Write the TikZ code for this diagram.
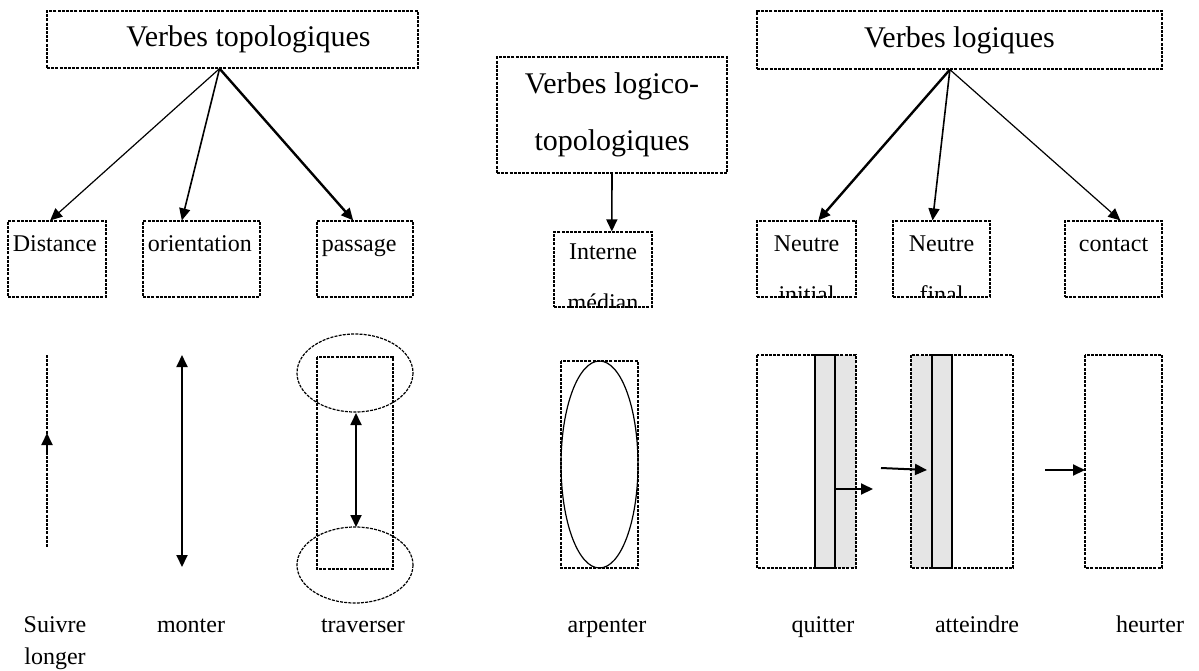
\documentclass[tikz,border=0pt]{standalone}
\usepackage{fontspec}
\setmainfont{Liberation Serif}
\usetikzlibrary{arrows.meta}

\tikzset{
  dots/.style={dash pattern=on 1.5pt off 0.6pt, line width=0.6pt},
  box/.style={draw, dots, rectangle, inner sep=0pt, minimum height=38pt},
  titlebox/.style={draw, dots, rectangle, inner sep=0pt, font=\fontsize{15}{28.5}\selectfont, align=center},
  boxtxt/.style={font=\fontsize{12}{25.5}\selectfont, align=center, inner xsep=2.5pt, inner ysep=7.5pt},
  oneline/.style={text height=8pt, text depth=2.5pt},
  lbl/.style={font=\fontsize{12}{16}\selectfont, anchor=base},
  arr/.style={-{Triangle[length=6pt,width=5.5pt]}},
  dbl/.style={{Triangle[length=6pt,width=5.5pt]}-{Triangle[length=6pt,width=5.5pt]}}
}

\begin{document}
\begin{tikzpicture}[x=0.5pt, y=-0.5pt]
    \useasboundingbox (0,0) rectangle (1199,670);

    % Verbes topologiques
    \node[titlebox, minimum width=185.5pt, minimum height=28.5pt] (topo) at (232.5,39.5) {\hspace{16pt}Verbes topologiques};
    \node[box, minimum width=49pt] (dist) at (57,259) {};
    \node[box, minimum width=58.5pt] (orient) at (201.5,259) {};
    \node[box, minimum width=48pt] (pass) at (365,259) {};
    \node[boxtxt, oneline, anchor=north west] (distTxt) at (dist.north west) {Distance};
    \node[boxtxt, oneline, anchor=north west] (orientTxt) at (orient.north west) {orientation};
    \node[boxtxt, oneline, anchor=north west] (passTxt) at (pass.north west) {passage};
    \draw[arr, line width=0.6pt] (topo.246) -- (dist.100);
    \draw[arr, line width=0.8pt] (topo.246) -- (orient.117);
    \draw[arr, line width=1.2pt] (topo.246) -- (pass.107);

    % Verbes logico-topologiques
    \node[titlebox, minimum width=115pt, minimum height=58pt] (logico) at (612,115) {Verbes logico-\\topologiques};
    \node[box, minimum width=49pt, minimum height=37.5pt] (interne) at (603,269.5) {};
    \begin{scope}
        \clip (interne.south west) rectangle (interne.north east);
        \node[boxtxt, anchor=north, inner ysep=6pt] (interneTxt) at (interne.north) {Interne\\médian};
    \end{scope}
    \draw[arr, line width=0.8pt] (logico.south) -- (interne.77);

    % Verbes logiques
    \node[titlebox, minimum width=202.5pt, minimum height=29pt] (logi) at (959.5,40) {Verbes logiques};
    \node[box, minimum width=49.5pt] (ini) at (806.5,259) {};
    \node[box, minimum width=48.5pt] (fin) at (941.5,259) {};
    \node[box, minimum width=48.5pt] (cont) at (1113.5,259) {};
    \begin{scope}
        \clip (ini.south west) rectangle (ini.north east);
        \node[boxtxt, anchor=north] (iniTxt) at (ini.north) {Neutre\\initial};
    \end{scope}
    \begin{scope}
        \clip (fin.south west) rectangle (fin.north east);
        \node[boxtxt, anchor=north] (finTxt) at (fin.north) {Neutre\\final};
    \end{scope}
    \node[boxtxt, oneline, anchor=north] (contTxt) at (cont.north) {contact};
    \draw[arr, line width=1.2pt] (logi.252) -- (ini.73);
    \draw[arr, line width=0.8pt] (logi.252) -- (fin.103);
    \draw[arr, line width=0.6pt] (logi.252) -- (cont.80);

    % suivre / longer
    \draw[dots] (47,355) -- (47,547);
    \draw[arr, line width=1pt] (47,453) -- (47,433);
    \node[lbl] (suivre) at (55,632) {Suivre};
    \node[lbl] (longer) at ([yshift=-16pt]suivre.base) {longer};

    % monter
    \draw[dbl, line width=0.9pt] (182,355) -- (182,567);
    \node[lbl] (monter) at (191,632) {monter};

    % traverser
    \draw[dots] (317,357) rectangle (393,569);
    \draw[dots] (355,373) ellipse [x radius=58, y radius=39];
    \draw[dots] (355,565) ellipse [x radius=58, y radius=38];
    \draw[dbl, line width=0.9pt] (356,413) -- (356,527);
    \node[lbl] (trav) at (363,632) {traverser};

    % arpenter
    \draw[dots] (561,361) rectangle (638,568);
    \draw[line width=0.6pt] (599.5,464.5) ellipse [x radius=38.5, y radius=103.5];
    \node[lbl] (arp) at (607,632) {arpenter};

    % quitter
    \fill[gray!20] (815,355) rectangle (856,568);
    \draw[dots] (757,355) rectangle (856,568);
    \draw[line width=0.6pt] (815,355) rectangle (835,568);
    \draw[arr, line width=1pt] (835,489) -- (873,489);
    \node[lbl] (quit) at (823,632) {quitter};

    % atteindre
    \fill[gray!20] (911,355) rectangle (952,568);
    \draw[dots] (911,355) rectangle (1013,568);
    \draw[line width=0.6pt] (932,355) rectangle (952,568);
    \draw[arr, line width=1pt] (881,468) -- (927,470);
    \node[lbl] (att) at (977,632) {atteindre};

    % heurter
    \draw[dots] (1085,355) rectangle (1162,568);
    \draw[arr, line width=1pt] (1045,470) -- (1085,470);
    \node[lbl] (heur) at (1150,632) {heurter};
\end{tikzpicture}
\end{document}
